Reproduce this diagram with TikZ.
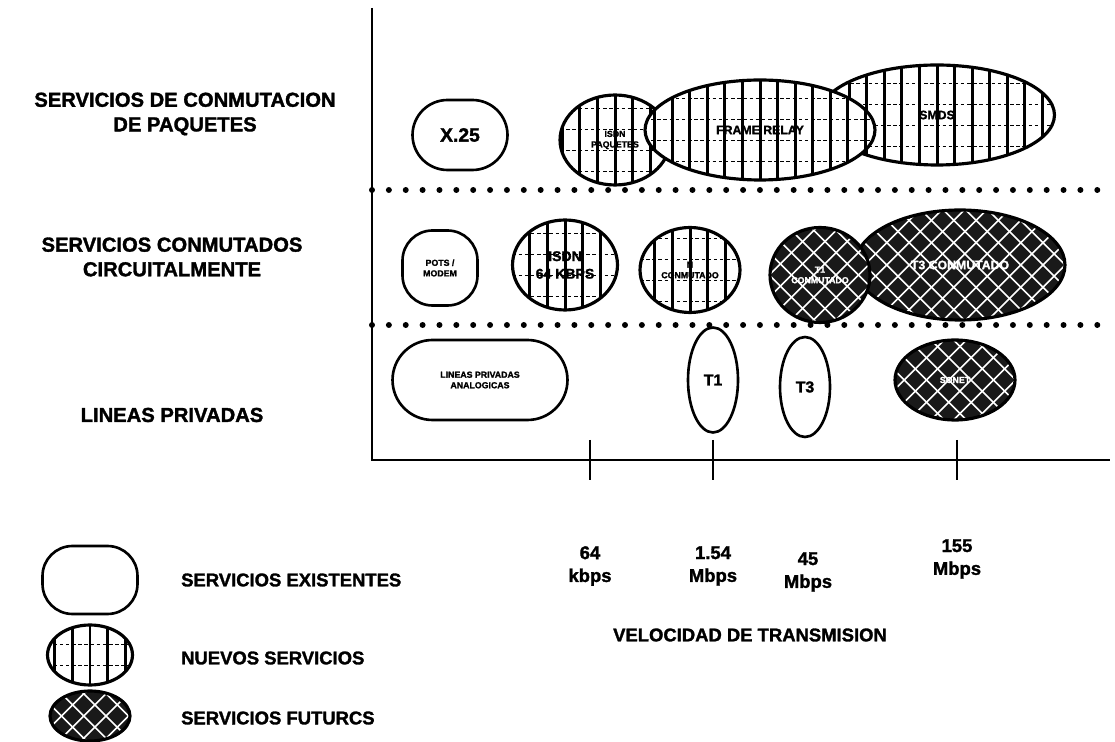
\documentclass[tikz,border=0pt]{standalone}
\usepackage{fontspec}
\setmainfont{Liberation Sans}[BoldFeatures={FakeBold=1.6}]
\usepackage{tikz}
\usetikzlibrary{shapes.geometric}

\begin{document}
\begin{tikzpicture}[
 x=0.02cm,y=-0.02cm,
 eje/.style={line width=1.6pt},
 sep/.style={line width=3.4pt,line cap=round,dash pattern=on 0pt off 9.6pt},
 fila/.style={align=center,font=\fontsize{11.5}{14}\selectfont\bfseries},
 vel/.style={align=center,font=\fontsize{10.5}{13}\selectfont\bfseries},
 existe/.style={draw,line width=1.5pt,fill=white,align=center,font=\fontsize{5}{6}\selectfont\bfseries,inner sep=0pt},
 nuevo/.style={ellipse,draw,line width=1.8pt,fill=white,align=center,font=\fontsize{5}{6}\selectfont\bfseries,inner sep=0pt,
   path picture={
     \foreach \i in {-14,...,14}{
       \draw[line width=1.7pt] ([xshift=\i*10pt]path picture bounding box.south) -- ([xshift=\i*10pt]path picture bounding box.north);}
     \foreach \i in {-4,...,4}{
       \draw[line width=0.8pt,dash pattern=on 2pt off 1.5pt] ([yshift=\i*12pt+6pt]path picture bounding box.west) -- ([yshift=\i*12pt+6pt]path picture bounding box.east);}}},
 futuro/.style={ellipse,draw,line width=1.8pt,fill=black!90,text=white,align=center,font=\fontsize{5}{6}\selectfont\bfseries,inner sep=0pt,
   path picture={
     \foreach \i in {-16,...,16}{
       \draw[white,line width=0.9pt] ([xshift=\i*12.7pt,yshift=-3cm]path picture bounding box.center) -- ++(6cm,6cm);
       \draw[white,line width=0.9pt] ([xshift=\i*12.7pt,yshift=3cm]path picture bounding box.center) -- ++(6cm,-6cm);}}}
]
\useasboundingbox (0,0) rectangle (1115,742);

% ejes
\coordinate (o) at (372,460);
\draw[eje] (372,8) -- (o) -- (1110,460);
\draw[sep] (372,190) -- (1110,190);
\draw[sep] (372,325) -- (1110,325);

% filas
\node[fila] (paq) at (185,114) {SERVICIOS DE CONMUTACION\\DE PAQUETES};
\node[fila] (circ) at (172,257) {SERVICIOS CONMUTADOS\\CIRCUITALMENTE};
\node[fila] (priv) at (172,415) {LINEAS PRIVADAS};

% paquetes
\node[existe,rounded corners=7mm,minimum width=19mm,minimum height=14mm,font=\fontsize{11}{13}\selectfont\bfseries] (x25) at (460,135) {X.25};
\node[nuevo,minimum width=22mm,minimum height=18mm] (ipaq) at (615,140) {ISDN\\PAQUETES};
\node[nuevo,minimum width=47mm,minimum height=20mm,font=\fontsize{7}{8}\selectfont\bfseries] (smds) at (937,115) {SMDS};
\node[nuevo,minimum width=46mm,minimum height=20mm,font=\fontsize{7}{8}\selectfont\bfseries] (fr) at (760,130) {FRAME RELAY};

% conmutados
\node[existe,rounded corners=6mm,minimum width=15mm,minimum height=15mm] (pots) at (440,268) {POTS /\\MODEM};
\node[nuevo,minimum width=21mm,minimum height=18mm,font=\fontsize{8}{10}\selectfont\bfseries] (isdn) at (565,265) {ISDN\\64 KBPS};
\node[nuevo,minimum width=20mm,minimum height=17mm] (nx) at (690,270) {N\\CONMUTADO};
\node[futuro,minimum width=42mm,minimum height=22mm,font=\fontsize{7}{8}\selectfont\bfseries] (t3c) at (960,265) {T3 CONMUTADO};
\node[futuro,minimum width=20mm,minimum height=19mm] (t1c) at (820,275) {T1\\CONMUTADO};

% privadas
\node[existe,rounded corners=8mm,minimum width=35mm,minimum height=16mm] (ana) at (480,380) {LINEAS PRIVADAS\\ANALOGICAS};
\node[existe,ellipse,minimum width=10mm,minimum height=21mm,font=\fontsize{9}{11}\selectfont\bfseries] (t1) at (713,380) {T1};
\node[existe,ellipse,minimum width=10mm,minimum height=20mm,font=\fontsize{9}{11}\selectfont\bfseries] (t3) at (805,387) {T3};
\node[futuro,minimum width=24mm,minimum height=16mm] (sonet) at (955,380) {SONET};

% velocidades
\foreach \x/\n in {590/a,713/b,957/c}{
  \coordinate (m\n) at (\x,440);
  \draw[eje] (m\n) -- ++(0,40);
}
\node[vel] (v64) at (590,566) {64\\kbps};
\node[vel] (v154) at (713,566) {1.54\\Mbps};
\node[vel] (v45) at (808,572) {45\\Mbps};
\node[vel] (v155) at (957,559) {155\\Mbps};
\node[fila,font=\fontsize{10.5}{13}\selectfont\bfseries] (tit) at (750,635) {VELOCIDAD DE TRANSMISION};

% leyenda
\node[existe,rounded corners=6mm,minimum width=19mm,minimum height=13.6mm] (l1) at (90,580) {};
\node[nuevo,minimum width=17mm,minimum height=12mm] (l2) at (90,655) {};
\node[futuro,minimum width=16mm,minimum height=10mm] (l3) at (90,716) {};
\node[fila,anchor=west,font=\fontsize{10.5}{13}\selectfont\bfseries] at (175,580) {SERVICIOS EXISTENTES};
\node[fila,anchor=west,font=\fontsize{10.5}{13}\selectfont\bfseries] at (175,658) {NUEVOS SERVICIOS};
\node[fila,anchor=west,font=\fontsize{10.5}{13}\selectfont\bfseries] at (175,718) {SERVICIOS FUTURCS};
\end{tikzpicture}
\end{document}
